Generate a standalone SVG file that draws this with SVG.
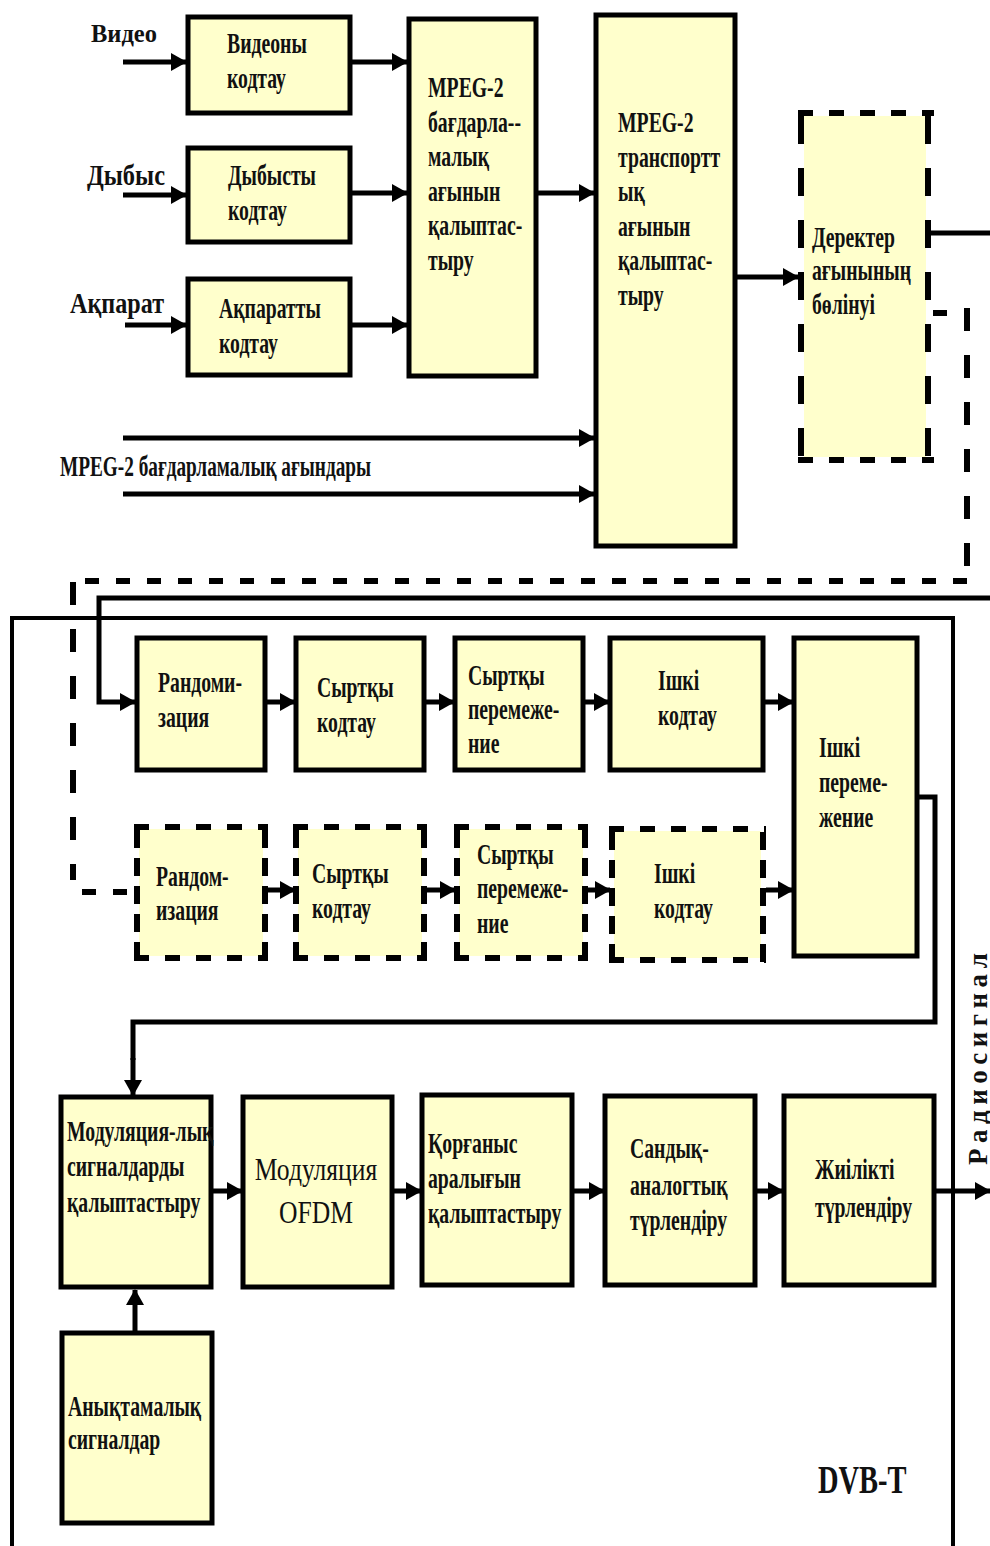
<svg xmlns="http://www.w3.org/2000/svg" width="990" height="1546" viewBox="0 0 990 1546">
<style>
.box{fill:#FFFFCC;stroke:#000;stroke-width:5}
.fill{fill:#FFFFCC;stroke:none}
.dh{fill:none;stroke:#000;stroke-width:6;stroke-dasharray:15 16}
.dv{fill:none;stroke:#000;stroke-width:6;stroke-dasharray:18 10}
.dv2{fill:none;stroke:#000;stroke-width:6;stroke-dasharray:28 24}
.dl{fill:none;stroke:#000;stroke-width:6;stroke-dasharray:14 17}
.dlv{fill:none;stroke:#000;stroke-width:6;stroke-dasharray:23 24}
.ln{fill:none;stroke:#000;stroke-width:5}
.fr{fill:none;stroke:#000;stroke-width:4}
.ar{fill:none;stroke:#000;stroke-width:5;marker-end:url(#ah)}
.t{font-family:"Liberation Serif","Times New Roman",serif;font-weight:bold;font-size:29px;fill:#111}
.t2{font-family:"Liberation Serif","Times New Roman",serif;font-weight:normal;font-size:32px;fill:#111}
</style>
<defs>
<marker id="ah" markerUnits="userSpaceOnUse" markerWidth="16" markerHeight="18" viewBox="0 0 16 18" refX="15" refY="9" orient="auto"><path d="M0,0 L16,9 L0,18 z" fill="#000"/></marker>
</defs>

<g id="connectors">
<path class="ar" d="M123,62 H186"/>
<path class="ar" d="M123,195 H186"/>
<path class="ar" d="M125,325 H186"/>
<path class="ar" d="M352,62 H407"/>
<path class="ar" d="M352,193 H407"/>
<path class="ar" d="M352,325 H407"/>
<path class="ar" d="M538,193 H594"/>
<path class="ar" d="M123,438 H594"/>
<path class="ar" d="M123,494 H594"/>
<path class="ar" d="M737,277 H798"/>
<path class="ln" d="M931,233 H990"/>
<path class="dl" d="M933,313 H948"/>
<path class="dlv" d="M967,308 V580"/>
<path class="dl" d="M967,581 H73"/>
<path class="dlv" d="M73,582 V880"/>
<path class="dl" d="M82,892 H135"/>
<path class="ar" d="M990,598 H99 V702 H135"/>
<path class="fr" d="M12,1546 V618 H953 V1546"/>
<path class="ar" d="M267,702 H295"/>
<path class="ar" d="M426,702 H454"/>
<path class="ar" d="M585,702 H609"/>
<path class="ar" d="M765,702 H793"/>
<path class="ar" d="M268,890 H295"/>
<path class="ar" d="M427,890 H455"/>
<path class="ar" d="M588,890 H610"/>
<path class="ar" d="M766,890 H793"/>
<path class="ln" d="M919,797 H935 V1022 H133 V1060"/>
<path class="ar" d="M133,1058 V1095"/>
<path class="ar" d="M213,1191 H242"/>
<path class="ar" d="M394,1191 H421"/>
<path class="ar" d="M574,1191 H604"/>
<path class="ar" d="M757,1191 H783"/>
<path class="ar" d="M936,1191 H990"/>
<path class="ar" d="M135,1331 V1290"/>
</g>

<g id="lbl-video"><text class="t" x="91" y="42" style="font-size:26px" textLength="66" lengthAdjust="spacingAndGlyphs">Видео</text></g>
<g id="lbl-dybys"><text class="t" x="87" y="185" style="font-size:30px" textLength="78" lengthAdjust="spacingAndGlyphs">Дыбыс</text></g>
<g id="lbl-akparat"><text class="t" x="70" y="313" style="font-size:30px" textLength="94" lengthAdjust="spacingAndGlyphs">Ақпарат</text></g>
<g id="lbl-streams"><text class="t" transform="translate(60 476) scale(0.665 1)">MPEG-2 бағдарламалық ағындары</text></g>

<g id="n-vid"><rect class="box" x="188" y="17" width="162" height="96"/>
<text class="t" transform="translate(227 53) scale(0.68 1)"><tspan x="0" y="0">Видеоны</tspan><tspan x="0" y="35">кодтау</tspan></text></g>
<g id="n-dyb"><rect class="box" x="188" y="148" width="162" height="94"/>
<text class="t" transform="translate(228 185) scale(0.68 1)"><tspan x="0" y="0">Дыбысты</tspan><tspan x="0" y="35">кодтау</tspan></text></g>
<g id="n-akp"><rect class="box" x="188" y="279" width="162" height="96"/>
<text class="t" transform="translate(219 318) scale(0.68 1)"><tspan x="0" y="0">Ақпаратты</tspan><tspan x="0" y="35">кодтау</tspan></text></g>
<g id="n-prog"><rect class="box" x="409" y="19" width="127" height="357"/>
<text class="t" transform="translate(428 97) scale(0.68 1)"><tspan x="0" y="0">MPEG-2</tspan><tspan x="0" y="34.6">бағдарла--</tspan><tspan x="0" y="69.2">малық</tspan><tspan x="0" y="103.8">ағынын</tspan><tspan x="0" y="138.4">қалыптас-</tspan><tspan x="0" y="173">тыру</tspan></text></g>
<g id="n-trans"><rect class="box" x="596" y="15" width="139" height="531"/>
<text class="t" transform="translate(618 132) scale(0.68 1)"><tspan x="0" y="0">MPEG-2</tspan><tspan x="0" y="34.6">транспортт</tspan><tspan x="0" y="69.2">ық</tspan><tspan x="0" y="103.8">ағынын</tspan><tspan x="0" y="138.4">қалыптас-</tspan><tspan x="0" y="173">тыру</tspan></text></g>
<g id="n-der"><rect class="fill" x="804" y="116" width="122" height="341"/>
<path class="dh" d="M798,113 H934 M798,460 H934"/>
<path class="dv2" d="M801,116 V458 M928,116 V458"/>
<text class="t" transform="translate(812 247) scale(0.68 1)"><tspan x="0" y="0">Деректер</tspan><tspan x="0" y="33.5">ағынының</tspan><tspan x="0" y="67">бөлінуі</tspan></text></g>

<g id="n-rand1"><rect class="box" x="137" y="638" width="128" height="132"/>
<text class="t" transform="translate(158 692) scale(0.68 1)"><tspan x="0" y="0">Рандоми-</tspan><tspan x="0" y="35">зация</tspan></text></g>
<g id="n-syr1"><rect class="box" x="296" y="638" width="128" height="132"/>
<text class="t" transform="translate(317 697) scale(0.68 1)"><tspan x="0" y="0">Сыртқы</tspan><tspan x="0" y="35">кодтау</tspan></text></g>
<g id="n-per1"><rect class="box" x="455" y="638" width="128" height="132"/>
<text class="t" transform="translate(468 685) scale(0.68 1)"><tspan x="0" y="0">Сыртқы</tspan><tspan x="0" y="34">перемеже-</tspan><tspan x="0" y="68">ние</tspan></text></g>
<g id="n-ishk1"><rect class="box" x="610" y="638" width="153" height="132"/>
<text class="t" transform="translate(658 690) scale(0.68 1)"><tspan x="0" y="0">Ішкі</tspan><tspan x="0" y="35">кодтау</tspan></text></g>
<g id="n-ishp"><rect class="box" x="794" y="638" width="123" height="318"/>
<text class="t" transform="translate(819 757) scale(0.68 1)"><tspan x="0" y="0">Ішкі</tspan><tspan x="0" y="35">переме-</tspan><tspan x="0" y="70">жение</tspan></text></g>

<g id="n-rand2"><rect class="fill" x="139" y="829" width="124" height="127"/>
<path class="dh" d="M134,827 H268 M134,958 H268"/>
<path class="dv" d="M137,830 V961 M265,830 V961"/>
<text class="t" transform="translate(156 886) scale(0.68 1)"><tspan x="0" y="0">Рандом-</tspan><tspan x="0" y="34">изация</tspan></text></g>
<g id="n-syr2"><rect class="fill" x="298" y="829" width="124" height="127"/>
<path class="dh" d="M293,827 H427 M293,958 H427"/>
<path class="dv" d="M296,830 V961 M424,830 V961"/>
<text class="t" transform="translate(312 883) scale(0.68 1)"><tspan x="0" y="0">Сыртқы</tspan><tspan x="0" y="35">кодтау</tspan></text></g>
<g id="n-per2"><rect class="fill" x="459" y="829" width="124" height="127"/>
<path class="dh" d="M454,827 H588 M454,958 H588"/>
<path class="dv" d="M457,830 V961 M585,830 V961"/>
<text class="t" transform="translate(477 864) scale(0.68 1)"><tspan x="0" y="0">Сыртқы</tspan><tspan x="0" y="34.5">перемеже-</tspan><tspan x="0" y="69">ние</tspan></text></g>
<g id="n-ishk2"><rect class="fill" x="614" y="831" width="147" height="127"/>
<path class="dh" d="M609,829 H766 M609,960 H766"/>
<path class="dv" d="M612,832 V963 M763,832 V963"/>
<text class="t" transform="translate(654 883) scale(0.68 1)"><tspan x="0" y="0">Ішкі</tspan><tspan x="0" y="35">кодтау</tspan></text></g>

<g id="n-mod"><rect class="box" x="61" y="1097" width="150" height="190"/>
<text class="t" transform="translate(67 1141) scale(0.68 1)"><tspan x="0" y="0">Модуляция-лық</tspan><tspan x="0" y="35.5">сигналдарды</tspan><tspan x="0" y="71">қалыптастыру</tspan></text></g>
<g id="n-ofdm"><rect class="box" x="243" y="1097" width="149" height="190"/>
<text class="t2" text-anchor="middle" transform="translate(316 1180) scale(0.8 1)"><tspan x="0" y="0">Модуляция</tspan><tspan x="0" y="43">OFDM</tspan></text></g>
<g id="n-korg"><rect class="box" x="422" y="1095" width="150" height="190"/>
<text class="t" transform="translate(428 1153) scale(0.68 1)"><tspan x="0" y="0">Қорғаныс</tspan><tspan x="0" y="35">аралығын</tspan><tspan x="0" y="70">қалыптастыру</tspan></text></g>
<g id="n-sand"><rect class="box" x="605" y="1096" width="150" height="189"/>
<text class="t" transform="translate(630 1158) scale(0.68 1)"><tspan x="0" y="0">Сандық-</tspan><tspan x="0" y="37">аналогтық</tspan><tspan x="0" y="72">түрлендіру</tspan></text></g>
<g id="n-zhil"><rect class="box" x="784" y="1096" width="150" height="189"/>
<text class="t" transform="translate(815 1179) scale(0.68 1)"><tspan x="0" y="0">Жиілікті</tspan><tspan x="0" y="38">түрлендіру</tspan></text></g>
<g id="n-anyk"><rect class="box" x="62" y="1333" width="150" height="190"/>
<text class="t" transform="translate(68 1416) scale(0.68 1)"><tspan x="0" y="0">Анықтамалық</tspan><tspan x="0" y="33">сигналдар</tspan></text></g>

<g id="lbl-dvbt"><text class="t" style="font-size:39px" transform="translate(818 1493) scale(0.73 1)">DVB-T</text></g>
<g id="lbl-radio"><text class="t" style="font-size:27px" transform="translate(987 1165) rotate(-90)" textLength="212" lengthAdjust="spacing">Радиосигнал</text></g>
</svg>
